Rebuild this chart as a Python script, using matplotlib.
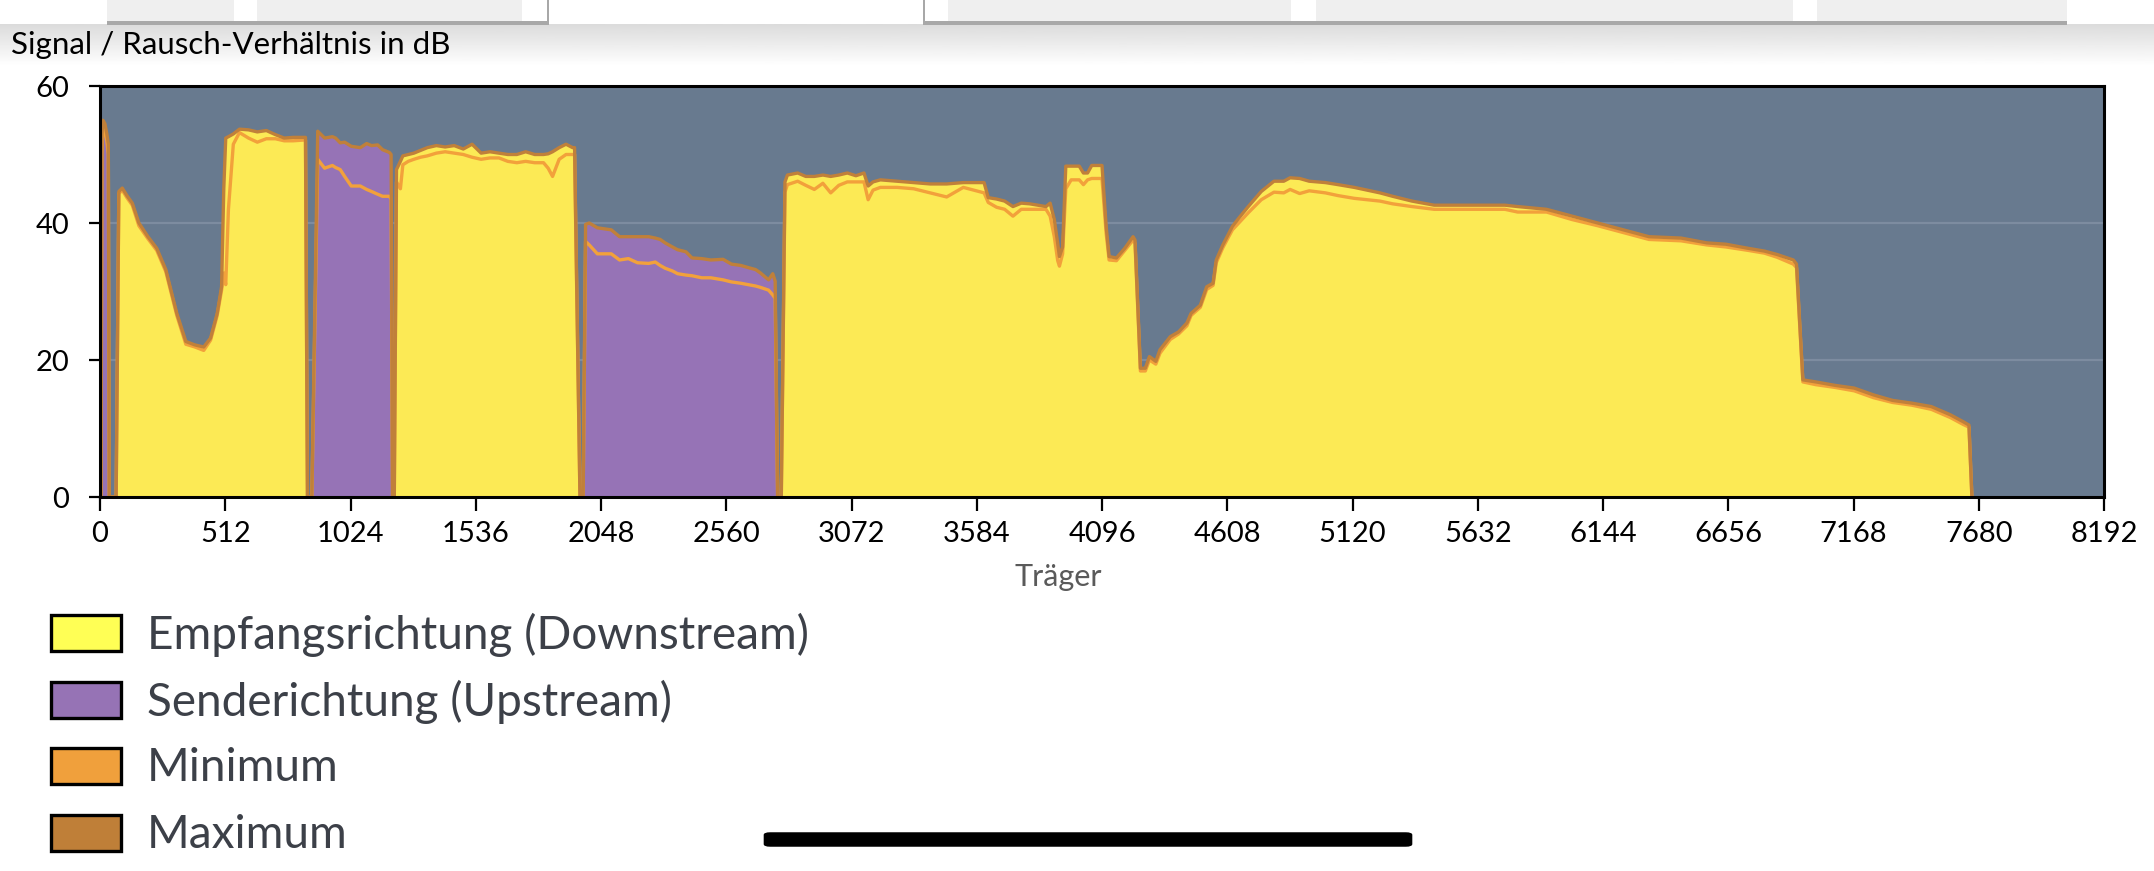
import matplotlib.pyplot as plt
from matplotlib.patches import Rectangle, FancyBboxPatch
import numpy as np

# Traeger / SNR (dB) je Band, Maximum und Minimum
us0_x = [4, 8, 12, 20, 28, 34, 38]
us0_max = [0, 53.0, 55.0, 54.5, 53.0, 51.5, 0]
us0_min = [0, 50.0, 54.0, 53.5, 52.0, 50.0, 0]

ds1_x = [66, 77, 91, 110, 132, 159, 196, 232, 269, 314, 351, 388, 424, 452, 479, 497,
         506, 514, 525, 545, 570, 607, 643, 680, 717, 753, 790, 830, 840, 848]
ds1_max = [0, 44.6, 45.1, 44.0, 42.9, 40.0, 38.0, 36.3, 33.2, 26.8, 22.7, 22.2, 21.9, 23.2, 26.8, 30.7,
           45.0, 52.4, 52.6, 53.0, 53.7, 53.6, 53.3, 53.5, 52.9, 52.4, 52.5, 52.5, 52.5, 0]
ds1_min = [0, 44.3, 44.8, 43.7, 42.6, 39.6, 37.7, 36.0, 32.9, 26.5, 22.3, 21.9, 21.4, 22.9, 26.5, 30.2,
           32.7, 31.0, 42.0, 51.5, 53.2, 52.4, 51.8, 52.3, 52.3, 52.0, 52.0, 52.1, 52.1, 0]

us1_x = [866, 890, 918, 950, 963, 982, 1000, 1027, 1064, 1090, 1110, 1135, 1155, 1183, 1190, 1196]
us1_max = [0, 53.4, 52.4, 52.6, 52.4, 51.7, 51.8, 51.2, 51.0, 51.6, 51.3, 51.4, 50.7, 50.3, 50.0, 0]
us1_min = [0, 49.3, 48.0, 48.4, 48.1, 47.8, 46.8, 45.4, 45.4, 44.9, 44.6, 44.2, 43.9, 43.9, 43.5, 0]

ds2_x = [1203, 1212, 1228, 1238, 1260, 1283, 1310, 1338, 1375, 1411, 1448, 1485, 1521, 1558, 1594,
         1631, 1667, 1704, 1740, 1777, 1813, 1832, 1850, 1877, 1905, 1932, 1940, 1962]
ds2_max = [0, 47.8, 49.0, 49.8, 50.0, 50.2, 50.6, 51.0, 51.3, 51.1, 51.3, 50.8, 51.5, 50.2, 50.4,
           50.2, 50.0, 50.0, 50.4, 50.0, 50.0, 50.1, 50.4, 51.0, 51.5, 51.0, 51.0, 0]
ds2_min = [0, 46.0, 45.0, 48.5, 49.0, 49.3, 49.6, 49.8, 50.2, 50.4, 50.2, 50.0, 49.6, 49.3, 49.5,
           49.5, 49.0, 48.8, 49.0, 48.8, 48.8, 48.0, 46.8, 49.3, 50.0, 50.0, 50.0, 0]

us2_x = [1975, 1985, 2000, 2033, 2090, 2124, 2160, 2197, 2243, 2270, 2290, 2310, 2340, 2361, 2395,
         2420, 2460, 2497, 2547, 2581, 2620, 2649, 2680, 2700, 2733, 2750, 2760, 2770]
us2_max = [0, 39.8, 40.0, 39.3, 39.0, 38.0, 38.0, 38.0, 38.0, 37.8, 37.6, 37.1, 36.5, 36.1, 35.8,
           34.9, 34.8, 34.6, 34.7, 34.0, 33.8, 33.5, 33.2, 32.7, 31.7, 32.6, 31.5, 0]
us2_min = [0, 37.3, 36.8, 35.5, 35.5, 34.6, 34.8, 34.2, 34.1, 34.3, 33.8, 33.4, 33.0, 32.6, 32.4,
           32.3, 32.0, 32.0, 31.7, 31.4, 31.2, 31.0, 30.8, 30.6, 30.2, 29.5, 29.0, 0]

ds3_x = [2785, 2800, 2810, 2852, 2885, 2920, 2955, 2987, 3020, 3055, 3090, 3123, 3140, 3160, 3190,
         3258, 3326, 3394, 3461, 3529, 3614, 3631, 3665, 3698, 3732, 3766, 3800, 3867, 3884, 3901,
         3915, 3922, 3935, 3948, 3970, 4003, 4020, 4037, 4054, 4080, 4096, 4113, 4125, 4155, 4189,
         4223, 4231, 4253, 4273, 4290, 4316, 4333, 4375, 4409, 4443, 4460, 4498, 4524, 4550, 4563,
         4590, 4629, 4655, 4694, 4747, 4799, 4839, 4865, 4904, 4943, 5009, 5061, 5127, 5232, 5284,
         5363, 5454, 5599, 5743, 5795, 5913, 6018, 6123, 6228, 6332, 6463, 6568, 6647, 6738, 6804,
         6856, 6922, 6935, 6961, 7014, 7092, 7171, 7250, 7328, 7407, 7486, 7564, 7616, 7640, 7652]
ds3_max = [0, 46.0, 47.0, 47.3, 46.8, 46.8, 47.0, 46.8, 47.0, 47.3, 46.9, 47.3, 45.4, 46.0, 46.3,
           46.1, 45.9, 45.7, 45.7, 45.9, 45.9, 43.7, 43.5, 43.2, 42.4, 42.9, 42.8, 42.4, 42.9, 40.5,
           37.0, 35.1, 36.5, 48.3, 48.3, 48.3, 47.3, 47.3, 48.4, 48.4, 48.4, 39.5, 35.1, 34.9, 36.3,
           38.0, 37.5, 18.8, 18.8, 20.5, 19.8, 21.5, 23.4, 24.1, 25.4, 26.8, 28.0, 30.7, 31.2, 34.6,
           36.8, 39.5, 40.7, 42.4, 44.6, 46.1, 46.1, 46.6, 46.5, 46.1, 45.9, 45.6, 45.2, 44.4, 43.9,
           43.2, 42.6, 42.6, 42.6, 42.4, 42.0, 41.0, 40.0, 39.0, 38.0, 37.8, 37.1, 36.9, 36.3, 35.9,
           35.4, 34.6, 34.0, 17.1, 16.8, 16.3, 15.9, 14.9, 14.1, 13.7, 13.2, 12.0, 11.0, 10.5, 0]
ds3_min = [0, 44.5, 45.6, 46.1, 45.5, 44.9, 45.8, 44.4, 45.5, 46.0, 46.0, 46.0, 43.4, 44.8, 45.2,
           45.2, 45.0, 44.4, 43.8, 45.2, 44.4, 43.0, 42.3, 42.0, 41.0, 42.0, 42.0, 42.0, 41.0, 38.0,
           34.5, 33.7, 35.5, 45.0, 46.3, 46.3, 45.6, 46.3, 46.5, 46.5, 46.5, 38.5, 34.6, 34.5, 36.0,
           37.5, 37.0, 18.4, 18.4, 20.0, 19.4, 21.0, 23.0, 23.8, 25.0, 26.5, 27.7, 30.3, 30.9, 34.2,
           36.4, 39.0, 40.0, 41.5, 43.4, 44.5, 44.4, 44.9, 44.3, 44.7, 44.4, 44.0, 43.6, 43.2, 42.8,
           42.4, 42.0, 42.0, 42.0, 41.6, 41.6, 40.5, 39.6, 38.6, 37.6, 37.4, 36.8, 36.5, 36.0, 35.6,
           35.0, 34.0, 33.5, 16.8, 16.4, 16.0, 15.5, 14.5, 13.8, 13.4, 12.8, 11.6, 10.6, 10.2, 0]

x_ticks = [0, 512, 1024, 1536, 2048, 2560, 3072, 3584, 4096, 4608, 5120, 5632, 6144, 6656, 7168, 7680, 8192]
y_ticks = [0, 20, 40, 60]

legend_labels = ["Empfangsrichtung (Downstream)", "Senderichtung (Upstream)", "Minimum", "Maximum"]
legend_colors = ["#ffff55", "#9673b5", "#f0a03c", "#bf7f38"]

c_bg = "#687a8f"
c_down = "#fcea55"
c_up = "#9673b6"
c_min = "#f2a13b"
c_max = "#c0803a"

plt.rcParams['font.family'] = ['Lato', 'DejaVu Sans']

W, H = 2154, 871
fig = plt.figure(figsize=(W / 100, H / 100), dpi=100)
fig.patch.set_facecolor("white")

ax = fig.add_axes([100 / W, 1 - 497 / H, 2004 / W, 411 / H])
ax.set_facecolor(c_bg)

bands = [
    (us0_x, us0_max, us0_min, c_up),
    (ds1_x, ds1_max, ds1_min, c_down),
    (us1_x, us1_max, us1_min, c_up),
    (ds2_x, ds2_max, ds2_min, c_down),
    (us2_x, us2_max, us2_min, c_up),
    (ds3_x, ds3_max, ds3_min, c_down),
]

for y in [20, 40]:
    ax.axhline(y, color="#7d8ca0", lw=1.6, zorder=1)

all_x, all_max, all_min = [], [], []
for bx, bmax, bmin, col in bands:
    ax.fill_between(bx, 0, bmax, color=col, lw=0, zorder=2)
    all_x += bx
    all_max += bmax
    all_min += bmin

ax.plot(all_x, all_min, color=c_min, lw=2.4, zorder=3)
ax.plot(all_x, all_max, color=c_max, lw=2.4, zorder=4)

ax.set_xlim(0, 8192)
ax.set_ylim(0, 60)
ax.set_xticks(x_ticks)
ax.set_yticks(y_ticks)
ax.tick_params(axis='x', length=10, width=1.6, pad=7, labelsize=21, colors='black')
ax.tick_params(axis='y', length=8, width=1.6, pad=14, labelsize=21, colors='black')
for s in ax.spines.values():
    s.set_linewidth(2.2)
    s.set_color("black")
    s.set_zorder(5)

# Achsenbeschriftungen
fig.text(1058 / W, 1 - 577 / H, "Träger", fontsize=22, color="#5a5a5a",
         ha='center', va='center')
fig.text(11 / W, 1 - 54 / H, "Signal / Rausch-Verhältnis in dB", fontsize=22.5,
         ha='left', va='baseline', color='black')

# Legende
for i, (lab, col) in enumerate(zip(legend_labels, legend_colors)):
    yc = 633 + i * 66.5
    fig.add_artist(Rectangle((51 / W, 1 - (yc + 18) / H), 70 / W, 36 / H,
                             transform=fig.transFigure, facecolor=col,
                             edgecolor='black', lw=2.4))
    fig.text(147 / W, 1 - (yc + 2) / H, lab, fontsize=33, color="#3c4048",
             ha='left', va='center')

# Fensterleiste oben
shadow = fig.add_axes([0, 1 - 66 / H, 1, 42 / H])
shadow.imshow(np.linspace(0.86, 1.0, 50).reshape(-1, 1), cmap='gray', vmin=0, vmax=1,
              aspect='auto', extent=(0, 1, 0, 1))
shadow.set_axis_off()
shadow.set_zorder(-1)
for x0, x1 in [(107, 234), (257, 522), (948, 1291), (1316, 1793), (1817, 2067)]:
    fig.add_artist(Rectangle((x0 / W, 1 - 22 / H), (x1 - x0) / W, 22 / H,
                             transform=fig.transFigure, facecolor="#efefef", lw=0))
for x0, x1 in [(107, 548), (923, 2067)]:
    fig.add_artist(Rectangle((x0 / W, 1 - 25 / H), (x1 - x0) / W, 4 / H,
                             transform=fig.transFigure, facecolor="#a8a8a8", lw=0))
for xv in [547, 923]:
    fig.add_artist(Rectangle((xv / W, 1 - 25 / H), 2 / W, 25 / H,
                             transform=fig.transFigure, facecolor="#a8a8a8", lw=0))

# Home-Indikator
fig.add_artist(FancyBboxPatch((768 / W, 1 - 845 / H), 640 / W, 11 / H,
                              boxstyle="round,pad=0.002,rounding_size=0.003",
                              transform=fig.transFigure, facecolor='black', lw=0))

fig.savefig("out.png", dpi=100)
